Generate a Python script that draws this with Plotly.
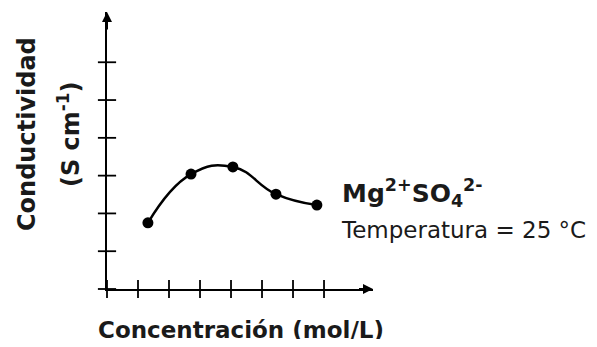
import plotly.graph_objects as go

# Data (in tick units)
concentracion = [1.32, 2.71, 4.06, 5.45, 6.77]
conductividad = [1.75, 3.04, 3.23, 2.51, 2.22]
x_ticks = [0, 1, 2, 3, 4, 5, 6, 7]
y_ticks = [0, 1, 2, 3, 4, 5, 6]

OFF = 8  # page body margin
W, H = 597 - 2 * OFF, 347 - 2 * OFF
L = 107 - OFF
T = 12 - OFF
B = H - (289 - OFF)
R = W - (373 - OFF)
xmax, ymax = 8.58, 7.33
FONT = "DejaVu Sans"
TXT = "#1a1a1a"

fig = go.Figure()

# curve
fig.add_trace(go.Scatter(
    x=concentracion, y=conductividad, mode="lines+markers",
    line=dict(color="black", width=2.5, shape="spline", smoothing=1.3),
    marker=dict(color="black", size=11),
    cliponaxis=False, hoverinfo="skip"))

# crossing tick marks
fig.add_trace(go.Scatter(
    x=x_ticks, y=[0] * len(x_ticks), mode="markers",
    marker=dict(symbol="line-ns", size=13, line=dict(color="black", width=1.8)),
    cliponaxis=False, hoverinfo="skip"))
fig.add_trace(go.Scatter(
    x=[0] * len(y_ticks), y=y_ticks, mode="markers",
    marker=dict(symbol="line-ew", size=13, line=dict(color="black", width=1.8)),
    cliponaxis=False, hoverinfo="skip"))

# axis arrows
fig.add_annotation(x=xmax, y=0, ax=xmax - 0.5, ay=0, xref="x", yref="y",
                   axref="x", ayref="y", showarrow=True, arrowhead=2,
                   arrowsize=1, arrowwidth=2, arrowcolor="black", text="")
fig.add_annotation(x=0, y=ymax, ax=0, ay=ymax - 0.5, xref="x", yref="y",
                   axref="x", ayref="y", showarrow=True, arrowhead=2,
                   arrowsize=1, arrowwidth=2, arrowcolor="black", text="")

pw = W - L - R
ph = H - T - B

def px(xp):
    return (xp - OFF - L) / pw

def py(yp):
    return (H - B - (yp - OFF)) / ph

fig.add_annotation(x=px(27), y=py(134), xref="paper", yref="paper",
                   xanchor="center", yanchor="middle",
                   text="<b>Conductividad</b>", textangle=-90, showarrow=False,
                   font=dict(family=FONT, size=24, color=TXT))
fig.add_annotation(x=px(69), y=py(135), xref="paper", yref="paper",
                   xanchor="center", yanchor="middle",
                   text="<b>(S cm<sup>-1</sup>)</b>", textangle=-90, showarrow=False,
                   font=dict(family=FONT, size=24, color=TXT))
fig.add_annotation(x=px(241), y=py(330), xref="paper", yref="paper",
                   xanchor="center", yanchor="middle",
                   text="<b>Concentración (mol/L)</b>", showarrow=False,
                   font=dict(family=FONT, size=23, color=TXT))
fig.add_annotation(x=px(340), y=py(213), xref="paper", yref="paper",
                   xanchor="left", yanchor="bottom",
                   text="<b>Mg<sup>2+</sup>SO<sub>4</sub><sup>2-</sup></b>",
                   showarrow=False, font=dict(family=FONT, size=25, color=TXT))
fig.add_annotation(x=px(339), y=py(215), xref="paper", yref="paper",
                   xanchor="left", yanchor="top", text="Temperatura = 25 °C",
                   showarrow=False, font=dict(family=FONT, size=23, color=TXT))

fig.update_layout(
    width=W, height=H, margin=dict(l=L, r=R, t=T, b=B),
    paper_bgcolor="white", plot_bgcolor="white", showlegend=False,
    xaxis=dict(range=[0, xmax], showline=True, linecolor="black", linewidth=2,
               showgrid=False, zeroline=False, showticklabels=False, ticks=""),
    yaxis=dict(range=[0, ymax], showline=True, linecolor="black", linewidth=2,
               showgrid=False, zeroline=False, showticklabels=False, ticks=""),
)

fig.write_html("out.html")
